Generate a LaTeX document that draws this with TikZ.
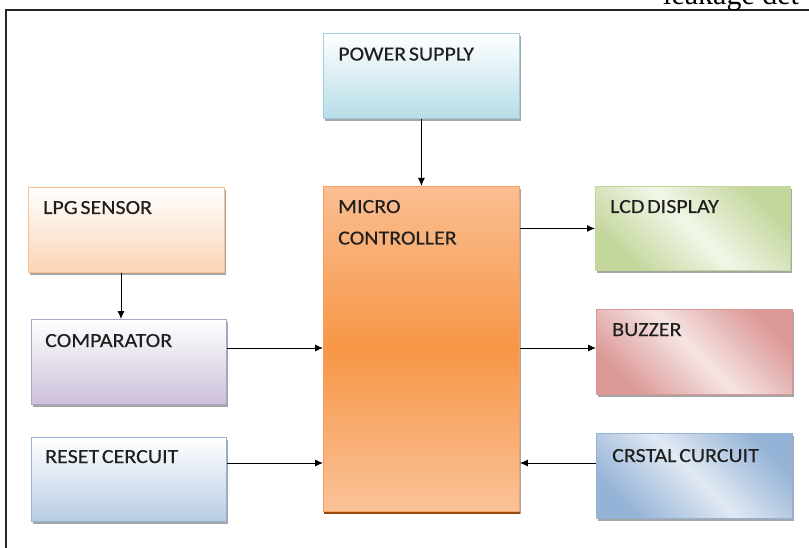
\documentclass[tikz,border=0pt]{standalone}
\usepackage{fontspec}
\setmainfont{Carlito}[FakeStretch=1.1, WordSpace=0.55, FakeBold=0.3]
\newfontfamily\serifhead{Liberation Serif}
\usetikzlibrary{arrows.meta,shadows}

\definecolor{psfill}{HTML}{B7DDE8}\definecolor{psline}{HTML}{9CD0DE}
\definecolor{mctop}{HTML}{FABE92}\definecolor{mcmid}{HTML}{F79646}\definecolor{mcbot}{HTML}{FAC298}
\definecolor{mcline}{HTML}{F7A061}\definecolor{mcshade}{HTML}{984807}
\definecolor{lpgfill}{HTML}{FBD4B4}\definecolor{lpgline}{HTML}{FAC090}
\definecolor{cmpfill}{HTML}{CCC0DA}\definecolor{cmpline}{HTML}{B2A1C7}
\definecolor{rstfill}{HTML}{B8CCE4}\definecolor{rstline}{HTML}{95B3D7}
\definecolor{lcddark}{HTML}{C3D69B}\definecolor{lcdlight}{HTML}{F1F6E8}\definecolor{lcdline}{HTML}{C3D69B}
\definecolor{bzdark}{HTML}{DC9997}\definecolor{bzlight}{HTML}{F5E4E3}\definecolor{bzline}{HTML}{D99694}
\definecolor{crdark}{HTML}{95B3D7}\definecolor{crlight}{HTML}{E1E9F3}\definecolor{crline}{HTML}{95B3D7}

\tikzset{
  blk/.style={draw, line width=0.9pt, anchor=north west, inner sep=0pt,
    minimum width=196pt, minimum height=85pt,
    drop shadow={shadow xshift=2pt, shadow yshift=-2.5pt, fill=black, opacity=0.35}},
  vgrad/.style={top color=white, bottom color=#1},
  dgrad/.style 2 args={left color=#1, right color=#1, middle color=#2, shading angle=-45},
  lbl/.style={anchor=base west, inner sep=0pt, align=left,
    font=\fontsize{20}{31.5}\selectfont, text=black!88},
  arr/.style={line width=0.9pt, -{Latex[length=8pt,width=7pt]}},
}

\begin{document}
\begin{tikzpicture}[x=1pt, y=-1pt]
  \useasboundingbox (0,0) rectangle (809,548);

  % page frame and running head
  \draw[line width=1.4pt, black!85] (6,548) -- (6,10) -- (809,10);
  \node[anchor=base west, inner sep=0pt, font=\serifhead\fontsize{30}{32}\selectfont]
    (head) at (663,5) {leakage det};

  % blocks
  \node[blk, draw=psline, vgrad=psfill] (ps) at (323,33) {};
  \node[blk, draw=mcline, top color=mctop, bottom color=mcbot, middle color=mcmid,
        minimum height=325pt,
        drop shadow={shadow xshift=0.5pt, shadow yshift=-2.5pt, fill=mcshade, opacity=1}] (mc) at (323,186) {};
  \node[blk, draw=lpgline, vgrad=lpgfill] (lpg) at (28,187) {};
  \node[blk, draw=cmpline, vgrad=cmpfill, minimum width=195pt] (cmp) at (31,319) {};
  \node[blk, draw=rstline, vgrad=rstfill, minimum width=195pt, minimum height=84pt] (rst) at (31,437) {};
  \node[blk, draw=lcdline, dgrad={lcddark}{lcdlight}, minimum width=195pt, minimum height=84pt] (lcd) at (595,186) {};
  \node[blk, draw=bzline, dgrad={bzdark}{bzlight}] (bz) at (596,309) {};
  \node[blk, draw=crline, dgrad={crdark}{crlight}] (cr) at (596,433) {};

  % block titles (base west = baseline of the last line)
  \node[lbl] (ps-t)  at ([xshift=15pt, yshift=-27.5pt]ps.north west)  {POWER SUPPLY};
  \node[lbl] (mc-t)  at ([xshift=15pt, yshift=-58.5pt]mc.north west)  {MICRO\\CONTROLLER};
  \node[lbl] (lpg-t) at ([xshift=15pt, yshift=-27pt]lpg.north west) {LPG SENSOR};
  \node[lbl] (cmp-t) at ([xshift=14pt, yshift=-28pt]cmp.north west) {COMPARATOR};
  \node[lbl] (rst-t) at ([xshift=14pt, yshift=-26pt]rst.north west) {RESET CERCUIT};
  \node[lbl] (lcd-t) at ([xshift=15pt, yshift=-27pt]lcd.north west) {LCD DISPLAY};
  \node[lbl] (bz-t)  at ([xshift=16pt, yshift=-27pt]bz.north west)  {BUZZER};
  \node[lbl] (cr-t)  at ([xshift=16pt, yshift=-29pt]cr.north west)  {CRSTAL CURCUIT};

  % connector levels
  \coordinate (mid) at (0,348);
  \coordinate (low) at (0,463);
  \coordinate (lpgx) at (121,0);

  % connectors
  \draw[arr] (ps.south) -- (mc.north);
  \draw[arr] (lpg.south -| lpgx) -- (cmp.north -| lpgx);
  \draw[arr] (cmp.east |- mid) -- (mc.west |- mid);
  \draw[arr] (rst.east |- low) -- (mc.west |- low);
  \draw[arr] (mc.east |- lcd.west) -- (lcd.west);
  \draw[arr] (mc.east |- mid) -- (bz.west |- mid);
  \draw[arr] (cr.west |- low) -- (mc.east |- low);
\end{tikzpicture}
\end{document}
